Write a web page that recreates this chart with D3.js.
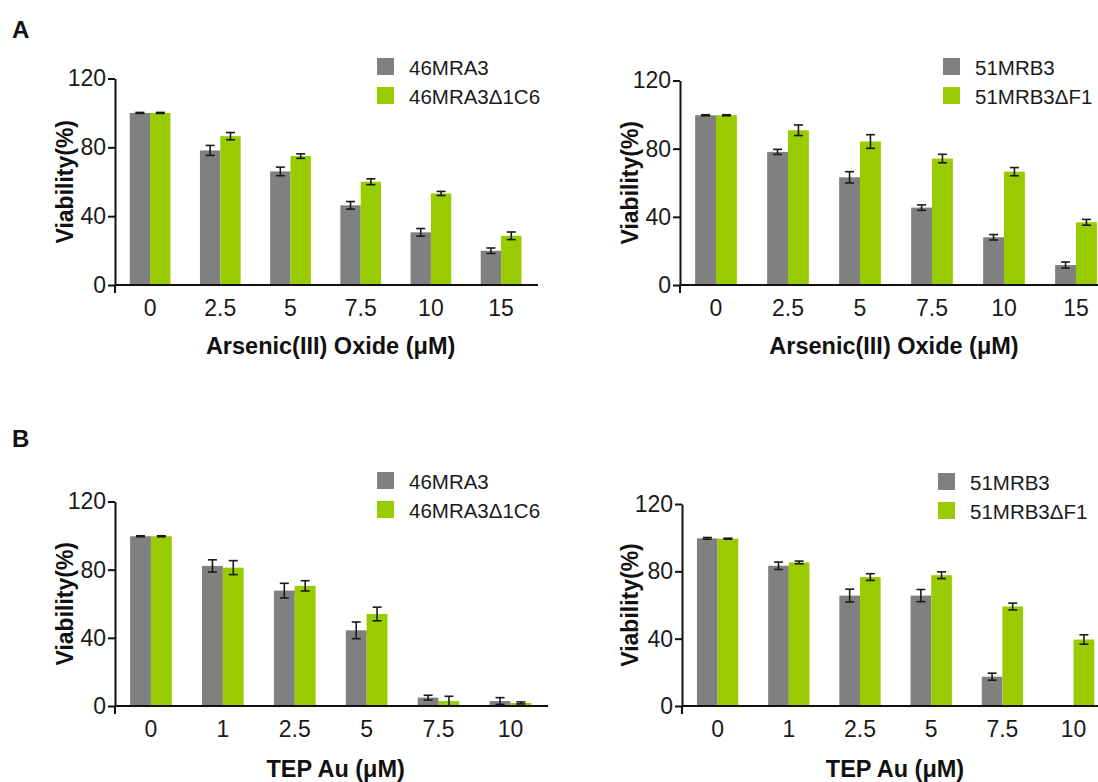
<!DOCTYPE html>
<html><head><meta charset="utf-8">
<script src="https://cdn.jsdelivr.net/npm/d3@7"></script>
<style>
body{margin:0;background:#fff;}
svg{display:block;font-family:"Liberation Sans",Arial,sans-serif;}
</style></head>
<body><svg id="c" width="1098" height="782"></svg>
<script>
// ---- data ----
const concA = ["0","2.5","5","7.5","10","15"];
const concB = ["0","1","2.5","5","7.5","10"];
const yTicks = [0,40,80,120];

const a1Names = ["46MRA3","46MRA3\u03941C6"];
const a1Gray  = [100, 78.2, 66.0, 46.3, 30.6, 19.9];
const a1GrayE = [0.3, 2.9, 2.5, 2.2, 2.2, 1.6];
const a1Green = [100, 86.5, 74.9, 60.0, 53.2, 28.6];
const a1GreenE= [0.3, 2.1, 1.3, 1.7, 1.2, 2.2];

const a2Names = ["51MRB3","51MRB3\u0394F1"];
const a2Gray  = [99.6, 78.1, 63.2, 45.4, 28.0, 11.7];
const a2GrayE = [0.3, 1.5, 3.3, 1.6, 1.6, 1.8];
const a2Green = [99.6, 90.8, 84.2, 74.2, 66.5, 36.8];
const a2GreenE= [0.3, 3.1, 4.0, 2.5, 2.4, 1.7];

const b1Names = ["46MRA3","46MRA3\u03941C6"];
const b1Gray  = [99.6, 82.2, 67.7, 44.4, 4.9, 2.9];
const b1GrayE = [0.3, 3.6, 4.3, 4.9, 1.4, 2.0];
const b1Green = [99.6, 81.2, 70.5, 54.0, 2.9, 1.8];
const b1GreenE= [0.3, 4.1, 3.0, 4.0, 2.8, 0.6];

const b2Names = ["51MRB3","51MRB3\u0394F1"];
const b2Gray  = [99.6, 83.3, 65.6, 65.6, 17.4, null];
const b2GrayE = [0.5, 2.2, 3.8, 3.6, 2.1, null];
const b2Green = [99.4, 85.3, 76.6, 77.7, 59.1, 39.5];
const b2GreenE= [0.3, 0.8, 2.0, 2.0, 2.0, 2.8];

const xTitleA = "Arsenic(III) Oxide (\u03bcM)";
const xTitleB = "TEP Au (\u03bcM)";
const yTitle = "Viability(%)";
const colors = ["#808080","#99cc00"];

// ---- layout ----
const panels = [
  {cats:concA, vals:[a1Gray,a1Green], errs:[a1GrayE,a1GreenE], names:a1Names, xt:xTitleA,
   ax:115, y0:285, y1:78.5, step:70.2, lineEnd:538, legX:377, legY:58, xtY:354, ytX:67},
  {cats:concA, vals:[a2Gray,a2Green], errs:[a2GrayE,a2GreenE], names:a2Names, xt:xTitleA,
   ax:680, y0:285, y1:80.5, step:72.0, lineEnd:1098, legX:943, legY:58, xtY:354, ytX:632},
  {cats:concB, vals:[b1Gray,b1Green], errs:[b1GrayE,b1GreenE], names:b1Names, xt:xTitleB,
   ax:115, y0:706, y1:501.5, step:71.9, lineEnd:548, legX:377, legY:472, xtY:777, ytX:67},
  {cats:concB, vals:[b2Gray,b2Green], errs:[b2GrayE,b2GreenE], names:b2Names, xt:xTitleB,
   ax:682, y0:706, y1:504, step:71.2, lineEnd:1098, legX:938, legY:473, xtY:777, ytX:632}
];

const svg = d3.select("#c");
svg.append("text").attr("x",12).attr("y",38).attr("font-size",24).attr("font-weight","bold").attr("fill","#111").text("A");
svg.append("text").attr("x",12).attr("y",447).attr("font-size",24).attr("font-weight","bold").attr("fill","#111").text("B");

panels.forEach(p=>{
  const g = svg.append("g");
  const n = p.cats.length;
  const x0 = d3.scaleBand().domain(p.cats).range([p.ax, p.ax + n*p.step]).paddingInner(0.42).paddingOuter(0.21);
  const x1 = d3.scaleBand().domain([0,1]).range([0, x0.bandwidth()]);
  const y = d3.scaleLinear().domain([0,120]).range([p.y0, p.y1]);

  // bars
  [0,1].forEach(s=>{
    const rows = p.cats.map((c,i)=>({c, v:p.vals[s][i], e:p.errs[s][i]})).filter(d=>d.v!=null);
    g.selectAll(null).data(rows).enter().append("rect")
      .attr("x", d=>x0(d.c)+x1(s)).attr("width", x1.bandwidth())
      .attr("y", d=>y(d.v)).attr("height", d=>y(0)-y(d.v))
      .attr("fill", colors[s]);
    const eg = g.selectAll(null).data(rows.filter(d=>d.e!=null)).enter().append("g")
      .attr("stroke","#1a1a1a").attr("stroke-width",1.6);
    const cx = d=>x0(d.c)+x1(s)+x1.bandwidth()/2;
    eg.append("line").attr("x1",cx).attr("x2",cx).attr("y1",d=>y(d.v+d.e)).attr("y2",d=>y(Math.max(0,d.v-d.e)));
    eg.append("line").attr("x1",d=>cx(d)-4.5).attr("x2",d=>cx(d)+4.5).attr("y1",d=>y(d.v+d.e)).attr("y2",d=>y(d.v+d.e));
    eg.append("line").attr("x1",d=>cx(d)-4.5).attr("x2",d=>cx(d)+4.5).attr("y1",d=>y(Math.max(0,d.v-d.e))).attr("y2",d=>y(Math.max(0,d.v-d.e)));
  });

  // x axis line
  g.append("line").attr("x1",p.ax).attr("x2",p.lineEnd).attr("y1",p.y0).attr("y2",p.y0)
    .attr("stroke","#111").attr("stroke-width",2);
  // x tick labels
  const xa = g.append("g").attr("transform",`translate(0,${p.y0})`)
    .call(d3.axisBottom(x0).tickSize(0).tickPadding(15));
  xa.select(".domain").remove();
  xa.selectAll("text").attr("font-size",23).attr("fill","#1a1a1a").attr("font-family","Liberation Sans, Arial, sans-serif");

  // y axis
  const ya = g.append("g").attr("transform",`translate(${p.ax},0)`)
    .call(d3.axisLeft(y).tickValues(yTicks).tickSize(7).tickPadding(2).tickSizeOuter(0));
  ya.select(".domain").attr("stroke","#111").attr("stroke-width",2);
  ya.selectAll(".tick line").attr("stroke","#111").attr("stroke-width",2);
  ya.selectAll("text").attr("font-size",23).attr("fill","#1a1a1a").attr("font-family","Liberation Sans, Arial, sans-serif");
  // y axis extension below zero
  g.append("line").attr("x1",p.ax).attr("x2",p.ax).attr("y1",p.y0).attr("y2",p.y0+8)
    .attr("stroke","#111").attr("stroke-width",2);

  // titles
  g.append("text").attr("x", (p.ax + Math.min(p.lineEnd, p.ax+n*p.step))/2 + 5).attr("y", p.xtY)
    .attr("text-anchor","middle").attr("font-size",23.5).attr("font-weight","bold").attr("fill","#111").text(p.xt);
  g.append("text").attr("transform",`translate(${p.ytX},${(p.y0+p.y1)/2}) rotate(-90)`)
    .attr("text-anchor","middle").attr("dominant-baseline","middle")
    .attr("font-size",23).attr("font-weight","bold").attr("fill","#111").text(yTitle);

  // legend
  const lg = g.append("g").attr("transform",`translate(${p.legX},${p.legY})`);
  p.names.forEach((nm,i)=>{
    lg.append("rect").attr("x",0).attr("y",i*29).attr("width",17).attr("height",17).attr("fill",colors[i]);
    lg.append("text").attr("x",32).attr("y",i*29+9).attr("dominant-baseline","central")
      .attr("font-size",20.5).attr("fill","#1a1a1a").text(nm);
  });
});
</script></body></html>
